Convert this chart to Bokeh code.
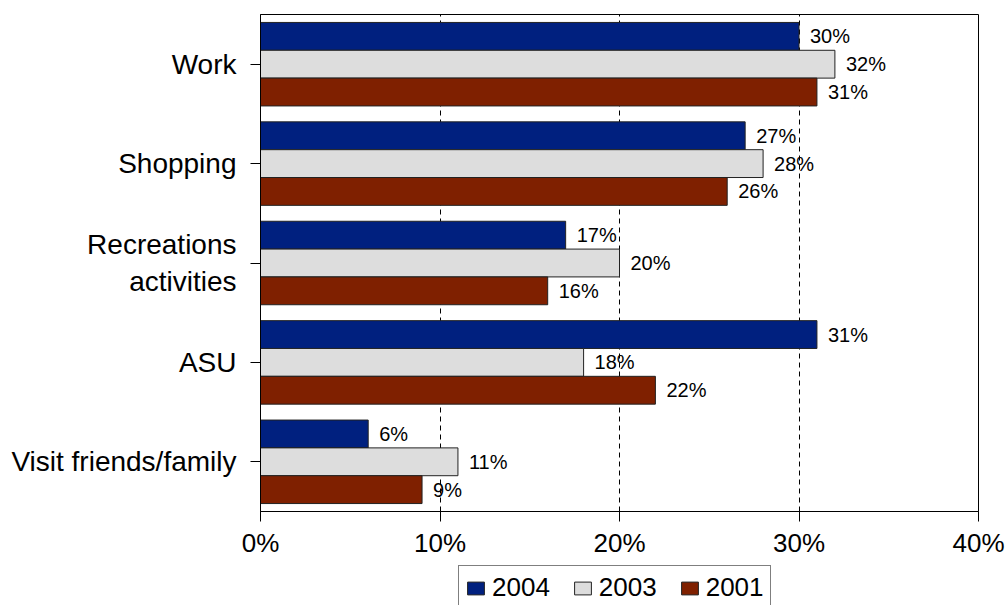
from bokeh.plotting import figure
from bokeh.models import ColumnDataSource, FactorRange, Legend, LegendItem, FixedTicker
from bokeh.core.properties import value
from bokeh.transform import dodge
from bokeh.layouts import column
from bokeh.embed import file_html
from bokeh.resources import INLINE

categories = ["Work", "Shopping", "Recreations\nactivities", "ASU", "Visit friends/family"]
years = ["2004", "2003", "2001"]
v2004 = [30, 27, 17, 31, 6]
v2003 = [32, 28, 20, 18, 11]
v2001 = [31, 26, 16, 22, 9]
colors = ["#00207F", "#DDDDDD", "#7F2000"]
x_ticks = [0, 10, 20, 30, 40]
x_tick_labels = ["0%", "10%", "20%", "30%", "40%"]

FONT = "Liberation Sans"

p = figure(width=1006, height=564, output_backend="svg", toolbar_location=None,
           y_range=FactorRange(*categories[::-1], range_padding=0),
           x_range=(0, 40),
           min_border_left=260, min_border_right=28, min_border_top=14, min_border_bottom=53)

src = ColumnDataSource(dict(
    cat=categories,
    v2004=v2004, v2003=v2003, v2001=v2001,
    l2004=[f"{v}%" for v in v2004],
    l2003=[f"{v}%" for v in v2003],
    l2001=[f"{v}%" for v in v2001],
))

offsets = [0.28, 0.0, -0.28]
for yr, col, off in zip(years, colors, offsets):
    p.hbar(y=dodge("cat", off, range=p.y_range), right="v" + yr, left=0, height=0.28,
           source=src, fill_color=col, line_color="#222222", line_width=1)
    p.text(x="v" + yr, y=dodge("cat", off, range=p.y_range), text="l" + yr, source=src,
           x_offset=11, text_baseline="middle", text_align="left",
           text_font_size="20px", text_color="black", text_font=value(FONT))

# axes
p.xaxis.ticker = FixedTicker(ticks=x_ticks)
p.xaxis.major_label_overrides = {t: l for t, l in zip(x_ticks, x_tick_labels)}
p.xaxis.major_label_text_font_size = "26px"
p.xaxis.major_label_text_font = FONT
p.xaxis.major_label_text_color = "black"
p.xaxis.major_tick_in = 0
p.xaxis.major_tick_out = 10
p.xaxis.major_label_standoff = 6
p.xaxis.minor_tick_line_color = None
p.xaxis.axis_line_color = "black"
p.xaxis.major_tick_line_color = "black"

p.yaxis.major_label_text_font_size = "28px"
p.yaxis.major_label_text_font = FONT
p.yaxis.major_label_text_color = "black"
p.yaxis.major_tick_in = 0
p.yaxis.major_tick_out = 10
p.yaxis.axis_line_color = "black"
p.yaxis.major_tick_line_color = "black"
p.yaxis.major_label_standoff = 14

p.xgrid.ticker = FixedTicker(ticks=x_ticks[1:])
p.xgrid.grid_line_color = "black"
p.xgrid.grid_line_dash = "5 4"
p.ygrid.grid_line_color = None
p.outline_line_color = "black"

# legend strip below the chart
p2 = figure(width=1006, height=41, output_backend="svg", toolbar_location=None,
            y_range=FactorRange(*categories[::-1], range_padding=0), x_range=(0, 40),
            x_axis_location=None, y_axis_location=None, min_border=0)
p2.grid.grid_line_color = None
p2.outline_line_color = None
items = []
for yr, col in zip(years, colors):
    r = p2.hbar(y="cat", right="v" + yr, left=0, height=0.28, source=src,
                fill_color=col, line_color="#222222", line_width=1, visible=False)
    items.append(LegendItem(label=yr, renderers=[r]))

legend = Legend(items=items, orientation="horizontal", location=(198, -5),
                label_text_font_size="26px", label_text_font=FONT, label_text_color="black",
                border_line_color="black", border_line_width=1, background_fill_alpha=1,
                inactive_fill_alpha=0,
                glyph_width=21, glyph_height=16, spacing=22, padding=6,
                label_standoff=6, margin=0)
p2.add_layout(legend, "center")

open("out.html", "w").write(file_html(column(p, p2, spacing=0), INLINE))
